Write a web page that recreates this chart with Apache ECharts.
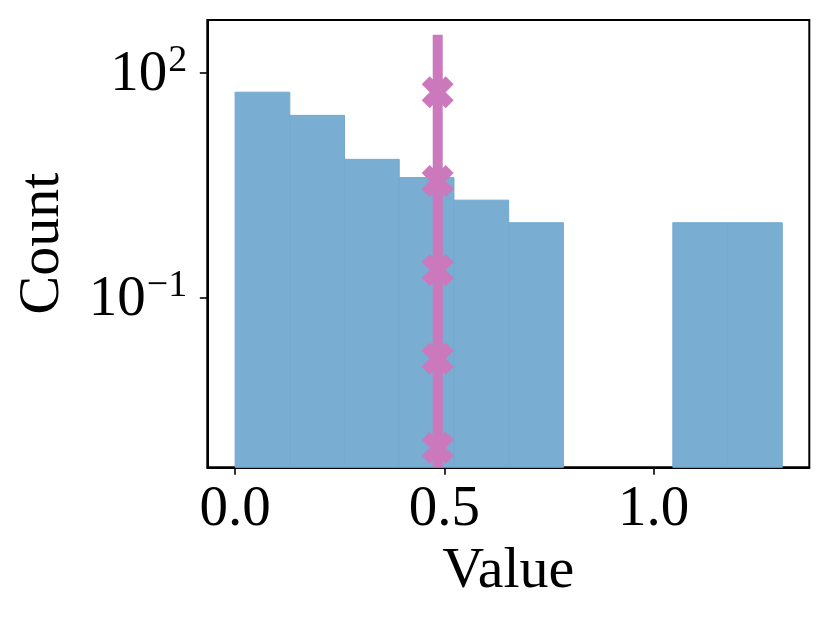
<!DOCTYPE html>
<html>
<head>
<meta charset="utf-8">
<script src="https://cdn.jsdelivr.net/npm/echarts@6/dist/echarts.min.js"></script>
<style>
  html, body { margin: 0; padding: 0; background: #fff; }
  #chart { width: 829px; height: 622px; }
</style>
</head>
<body>
<div id="chart"></div>
<script>
// ---- data ----
const binEdges = [0, 0.1307, 0.2614, 0.3921, 0.5228, 0.6535, 0.7842, 0.9149, 1.0456, 1.1763, 1.307];
const counts = [55, 27, 7, 4, 2, 1, 0, 0, 1, 1];
const lineX = 0.484;
const lineYRange = [0.000548, 321];
const markerYs = [0.001, 0.01531, 0.2344, 3.589, 55];
const xTicks = [0, 0.5, 1.0];
const yTicks = [0.1, 100];
const yTickLabels = { '0.1': '{b|10}{s|\u22121}', '100': '{b|10}{s|2}' };
const xRange = [-0.0664, 1.3716];
const yRange = [0.000548, 504.7];

const FONT = '"Liberation Serif", "DejaVu Serif", serif';
const barColor = '#79add2';
const pink = '#cc78bc';

const histData = [];
for (let i = 0; i < counts.length; i++) {
  if (counts[i] > 0) histData.push([binEdges[i], binEdges[i + 1], counts[i]]);
}

const chart = echarts.init(document.getElementById('chart'), null, { renderer: 'canvas' });
chart.setOption({
  animation: false,
  backgroundColor: '#fff',
  grid: {
    left: 207.3, right: 19.7, top: 20, bottom: 154.7,
    show: true, borderColor: '#000', borderWidth: 2, backgroundColor: 'transparent',
    outerBoundsMode: 'none'
  },
  xAxis: {
    type: 'value',
    min: xRange[0], max: xRange[1],
    name: 'Value',
    nameLocation: 'middle',
    nameGap: 74,
    nameTextStyle: { fontFamily: FONT, fontSize: 58, color: '#000' },
    axisLine: { show: true, onZero: false, lineStyle: { color: '#000', width: 2 } },
    axisTick: { show: true, length: 7.5, lineStyle: { color: '#000', width: 1.6 }, customValues: xTicks },
    axisLabel: {
      customValues: xTicks,
      formatter: v => Number(v).toFixed(1),
      fontFamily: FONT, fontSize: 57, color: '#000', margin: 14
    },
    splitLine: { show: false }
  },
  yAxis: {
    type: 'log',
    logBase: 10,
    min: yRange[0], max: yRange[1],
    name: 'Count',
    nameLocation: 'middle',
    nameGap: 136,
    nameRotate: 90,
    nameTextStyle: { fontFamily: FONT, fontSize: 58, color: '#000' },
    axisLine: { show: true, onZero: false, lineStyle: { color: '#000', width: 2 } },
    axisTick: { show: true, length: 7.5, lineStyle: { color: '#000', width: 1.6 }, customValues: yTicks },
    axisLabel: {
      customValues: yTicks,
      formatter: v => {
        const key = String(Math.abs(v - 0.1) < 1e-6 ? 0.1 : (Math.abs(v - 100) < 1e-3 ? 100 : v));
        return yTickLabels[key] || '';
      },
      margin: 20,
      rich: {
        b: { fontFamily: FONT, fontSize: 57, color: '#000', lineHeight: 62, verticalAlign: 'bottom' },
        s: { fontFamily: FONT, fontSize: 38, color: '#000', lineHeight: 38, verticalAlign: 'top', padding: [0, 0, 0, 1] }
      }
    },
    splitLine: { show: false },
    minorTick: { show: false }
  },
  series: [
    {
      type: 'custom',
      name: 'hist',
      z: 1,
      data: histData,
      encode: { x: [0, 1], y: 2 },
      renderItem: function (params, api) {
        const x0 = api.value(0), x1 = api.value(1), c = api.value(2);
        const pTop = api.coord([x0, c]);
        const pBot = api.coord([x1, yRange[0]]);
        return {
          type: 'rect',
          shape: { x: pTop[0], y: pTop[1], width: pBot[0] - pTop[0], height: pBot[1] - pTop[1] },
          style: { fill: barColor, stroke: '#74a9d0', lineWidth: 1 }
        };
      }
    },
    {
      type: 'line',
      z: 3,
      data: [[lineX, lineYRange[0]], [lineX, lineYRange[1]]],
      showSymbol: false,
      lineStyle: { color: pink, width: 10, cap: 'butt' },
      clip: true
    },
    {
      type: 'scatter',
      z: 4,
      data: markerYs.map(y => [lineX, y]),
      symbol: 'path://M1,0L2,1L3,0L4,1L3,2L4,3L3,4L2,3L1,4L0,3L1,2L0,1Z',
      symbolSize: 32,
      symbolKeepAspect: true,
      itemStyle: { color: pink, opacity: 1 }
    }
  ]
});
</script>
</body>
</html>
